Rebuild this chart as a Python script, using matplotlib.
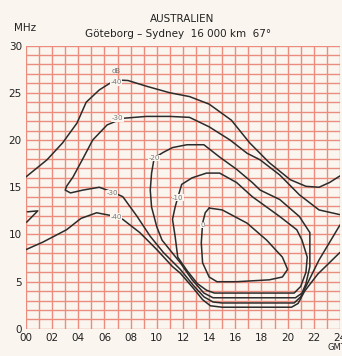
import matplotlib
matplotlib.use("Agg")
import matplotlib.pyplot as plt

plt.rcParams.update({
    'font.family': 'DejaVu Sans',
    'font.size': 7,
})

PAPER = '#faf5ee'
GRID = '#eb8d7e'
INK = '#2b2b2b'

# ── contour traces (hour GMT, MHz) ───────────────────────────────────
# -40 dB, upper branch (MUF side)
m40_top_h = [0, 1.6, 2.8, 3.9, 4.6, 5.6, 6.4, 7.1, 7.8, 9.2, 11.0, 12.5, 14.0,
             15.7, 17.1, 18.6, 20.2, 21.4, 22.4, 23.2, 24]
m40_top_f = [16.1, 17.9, 19.7, 21.8, 24.0, 25.3, 26.0, 26.35, 26.3, 25.7, 25.0,
             24.6, 23.8, 22.1, 19.7, 17.6, 15.8, 15.1, 15.0, 15.5, 16.2]

# -40 dB, lower branch (absorption side)
m40_low_h = [0, 1.3, 3.1, 4.2, 5.4, 6.9, 7.4, 8.7, 10.0, 11.2, 11.8, 12.8,
             13.5, 14.1, 15.0, 20.3, 20.8, 21.3, 22.3, 24]
m40_low_f = [8.4, 9.2, 10.5, 11.7, 12.3, 11.9, 11.6, 10.2, 8.4, 6.6, 5.9, 4.3,
             3.1, 2.45, 2.3, 2.3, 2.7, 4.0, 5.8, 8.1]

# small -40 fragment at the left edge
m40_frag_h = [0.1, 0.9, 0.05]
m40_frag_f = [12.4, 12.5, 11.3]

# -30 dB, one line from the right edge round to the right edge again
m30_h = [24, 22.4, 20.9, 19.4, 17.9, 16.9, 15.6, 14.0, 12.5, 11.0, 9.2, 7.4,
         6.2, 5.1, 4.3, 3.6, 3.1, 3.0, 3.4, 4.35, 5.6, 6.6, 7.4, 8.5, 9.5,
         10.5, 11.8, 12.8, 13.6, 14.3, 15.0, 20.5, 21.0, 21.4, 22.4, 24]
m30_f = [12.1, 12.6, 14.2, 16.3, 17.9, 18.6, 20.0, 21.4, 22.4, 22.5, 22.5, 22.3,
         21.6, 20.0, 17.9, 16.1, 15.1, 14.7, 14.4, 14.7, 15.0, 14.5, 14.0, 11.9,
         9.8, 8.1, 6.3, 4.6, 3.4, 2.85, 2.75, 2.75, 3.4, 4.5, 7.3, 11.0]

# -20 dB closed loop
m20_h = [9.8, 10.5, 11.2, 12.3, 13.6, 14.8, 16.1, 17.3, 17.9, 19.4, 20.9,
         21.7, 21.7, 21.4, 21.1, 20.6, 14.3, 13.6, 12.7, 11.8, 10.4, 10.0,
         9.6, 9.5, 9.6, 9.8]
m20_f = [18.1, 18.7, 19.2, 19.5, 19.5, 18.2, 16.9, 15.5, 14.7, 13.7, 11.9,
         10.2, 6.6, 4.8, 3.8, 3.3, 3.3, 3.8, 5.2, 7.0, 9.4, 10.8, 12.9, 14.7,
         16.5, 18.1]

# -10 dB closed loop
m10_h = [11.6, 11.9, 12.7, 13.8, 14.8, 16.1, 17.3, 18.4, 19.4, 20.7, 21.1,
         21.5, 21.4, 21.0, 20.5, 14.4, 13.8, 13.1, 12.3, 11.6, 11.4, 11.2,
         11.4, 11.6]
m10_f = [13.9, 15.3, 16.0, 16.5, 16.5, 15.5, 14.0, 12.9, 11.9, 10.5, 9.4,
         7.6, 6.0, 4.5, 3.8, 3.8, 4.1, 4.8, 6.2, 7.6, 9.8, 11.6, 12.9, 13.9]

# 0 dB closed loop
m0_h = [14.0, 15.0, 16.9, 18.4, 19.6, 20.0, 19.6, 18.6, 16.1, 14.6, 14.0,
        13.5, 13.4, 13.5, 13.7, 14.0]
m0_f = [12.8, 12.6, 11.2, 9.4, 7.6, 6.3, 5.5, 5.2, 5.0, 5.0, 5.5,
        7.0, 9.1, 11.2, 12.3, 12.8]

# contour value labels: text, hour, MHz
label_txt = ['dB', '-40', '-30', '-20', '-10', '0', '-30', '-40']
label_h = [6.9, 6.9, 7.0, 9.8, 11.6, 13.5, 6.6, 6.9]
label_f = [27.3, 26.1, 22.3, 18.1, 13.9, 11.0, 14.4, 11.9]

hour_ticks = list(range(0, 25, 2))
hour_labels = ['%02d' % h for h in hour_ticks]
mhz_ticks = [0, 5, 10, 15, 20, 25, 30]

fig = plt.figure(figsize=(3.42, 3.56), dpi=100, facecolor=PAPER)
ax = fig.add_axes([0.076, 0.076, 0.918, 0.796], facecolor=PAPER)

# red graph paper: 1 h by 1 MHz
for h in range(0, 25):
    ax.axvline(h, color=GRID, lw=1.0, zorder=1)
for f in range(0, 31):
    ax.axhline(f, color=GRID, lw=1.0, zorder=1)

curves = [
    (m40_top_h, m40_top_f), (m40_low_h, m40_low_f), (m40_frag_h, m40_frag_f),
    (m30_h, m30_f), (m20_h, m20_f), (m10_h, m10_f), (m0_h, m0_f),
]
for hh, ff in curves:
    ax.plot(hh, ff, color=INK, lw=1.1, solid_joinstyle='round',
            solid_capstyle='round', zorder=3)

for t, hh, ff in zip(label_txt, label_h, label_f):
    bg = 'none' if t == 'dB' else PAPER
    ax.text(hh, ff, t, fontsize=5, color='#777777', ha='center', va='center',
            zorder=4, bbox=dict(boxstyle='square,pad=0.05', fc=bg, ec='none'))

ax.set_xlim(0, 24)
ax.set_ylim(0, 30)
ax.set_xticks(hour_ticks)
ax.set_xticklabels(hour_labels)
ax.set_yticks(mhz_ticks)
ax.tick_params(length=0, labelsize=7.5, colors='#222222', pad=3)
for s in ax.spines.values():
    s.set_visible(False)

fig.text(0.073, 0.92, 'MHz', fontsize=7.5, ha='center', va='center', color='#222222')
fig.text(0.532, 0.947, 'AUSTRALIEN', fontsize=7.5, ha='center', va='center',
         color='#222222')
fig.text(0.52, 0.904, 'Göteborg – Sydney  16 000 km  67°', fontsize=7.5,
         ha='center', va='center', color='#222222')
fig.text(0.985, 0.012, 'GMT', fontsize=6, ha='center', va='bottom', color='#222222')

fig.savefig('out.png', dpi=100, facecolor=PAPER)
